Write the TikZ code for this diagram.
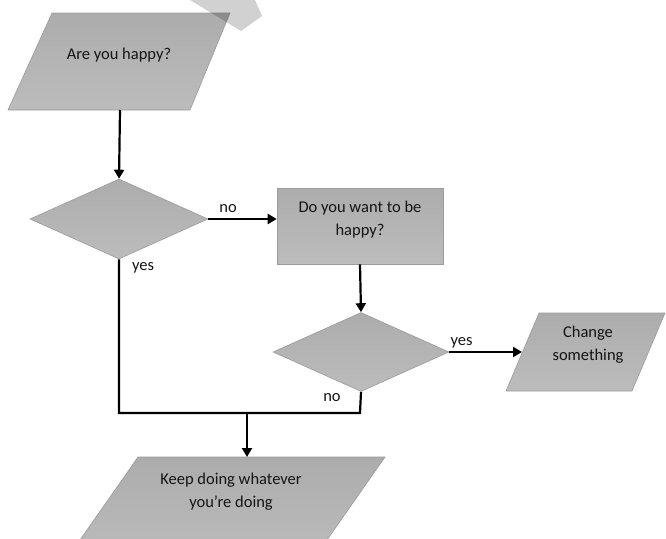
\documentclass[tikz,border=0pt]{standalone}
\usepackage{fontspec}
\setmainfont{Carlito}
\usetikzlibrary{arrows.meta,shapes.geometric}
\definecolor{edgegray}{RGB}{155,155,155}
\definecolor{topgray}{RGB}{172,172,172}
\definecolor{botgray}{RGB}{188,188,188}
\definecolor{txtc}{RGB}{20,20,20}
\begin{document}
\begin{tikzpicture}[x=1pt,y=-1pt,
  shp/.style={draw=edgegray, line width=0.6pt, top color=topgray, bottom color=botgray},
  txt/.style={font=\fontsize{16.5}{23}\selectfont, align=center, text=txtc},
  lbl/.style={font=\fontsize{16.5}{19}\selectfont, text=txtc, inner sep=1pt},
  conn/.style={line width=2.2pt, -{Triangle[length=9pt,width=10pt]}},
  seg/.style={line width=2.2pt, line join=miter}]
\useasboundingbox (0,0) rectangle (666,538);
\begin{scope}
\clip (0,0) rectangle (666,538);
% shapes
\path[shp] (52,13) -- (230,13) -- (190,110) -- (8,110) -- cycle;
\fill[black, opacity=0.18] (190,0) -- (255,0) -- (262,16) -- (241,31) -- cycle;
\node[txt] (p1) at (119,55) {Are you happy?};
\node[diamond, shp, minimum width=178pt, minimum height=80pt, inner sep=0pt] (d1) at (119,219) {};
\node[rectangle, shp, minimum width=166pt, minimum height=76pt, inner sep=0pt] (r) at (360,226) {};
\node[txt] (rt) at (360,220) {Do you want to be\\happy?};
\node[diamond, shp, minimum width=176pt, minimum height=79pt, inner sep=0pt] (d2) at (361,352) {};
\path[shp] (539,313) -- (665,313) -- (632,391) -- (506,391) -- cycle;
\node[txt] (p3) at (588,345) {Change\\something};
\path[shp] (138,457) -- (385,457) -- (313,560) -- (66,560) -- cycle;
\node[txt] (p4) at (231,492) {Keep doing whatever\\you’re doing};
\end{scope}
% connector anchors
\coordinate (p1b) at (120,110);
\coordinate (p3l) at (522,351);
\coordinate (j2) at (360,413);
\coordinate (mid) at (247,413);
\coordinate (p4t) at (247,457);
% connectors
\draw[conn] (p1b) -- (d1.north);
\draw[conn] (d1.east) -- (d1.east -| r.west) node[lbl, above, pos=0.29, yshift=4pt] (lno1) {no};
\draw[conn] (r.south) -- (d2.north);
\draw[conn] (d2.east) -- (d2.east -| p3l) node[lbl, above, pos=0.17, yshift=2pt] (lyes2) {yes};
\draw[seg] (d1.south) |- (j2) -- (d2.south);
\draw[conn] (mid) -- (p4t);
\node[lbl] (lyes1) at (143,268) {yes};
\node[lbl] (lno2) at (332,398) {no};
\end{tikzpicture}
\end{document}
